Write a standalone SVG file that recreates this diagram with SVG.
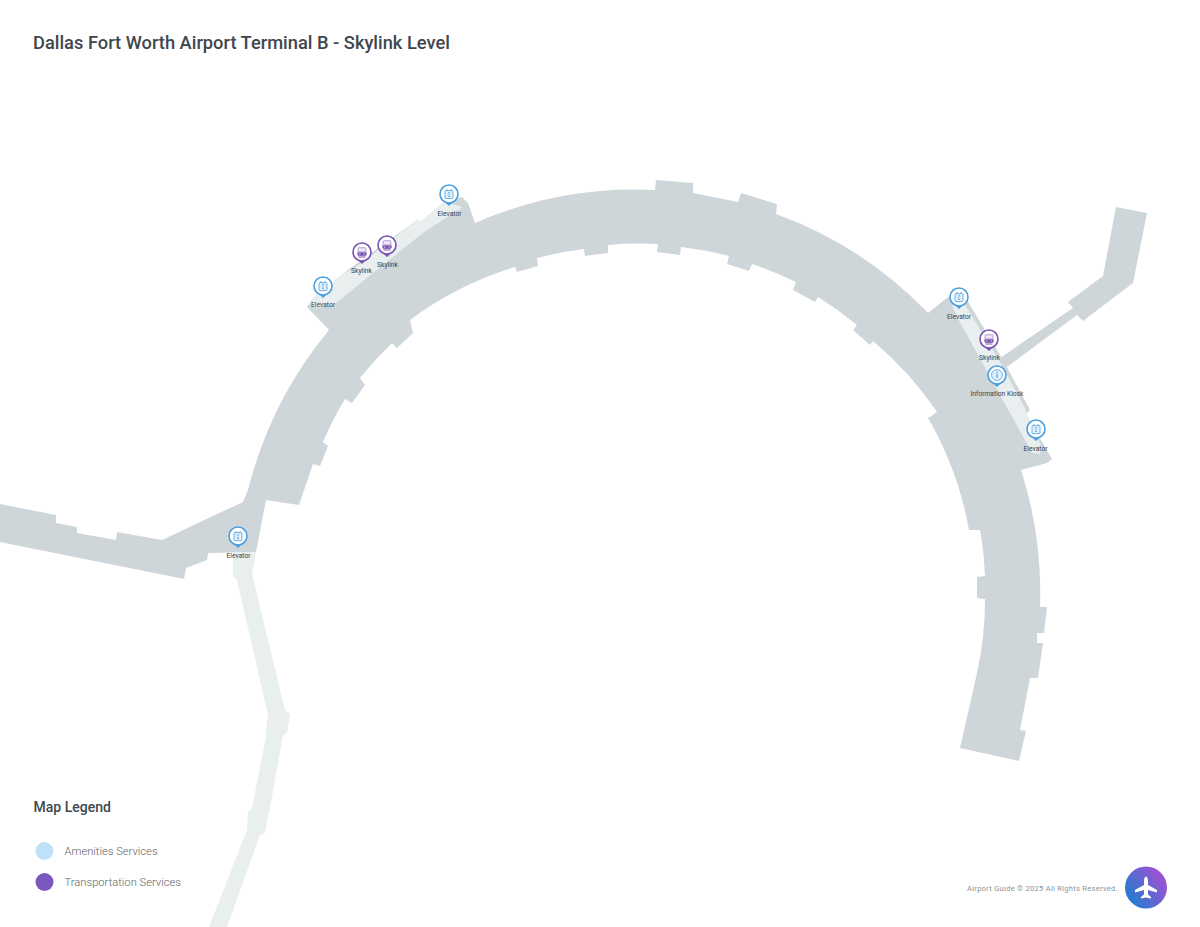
<svg xmlns="http://www.w3.org/2000/svg" xmlns:xlink="http://www.w3.org/1999/xlink" width="1200" height="927" viewBox="0 0 1200 927">
<style>
.f{fill:#ced6d9}.l{fill:#e9eeef}
text{font-family:Roboto,"Liberation Sans",sans-serif}
.lb{font-size:6.7px;fill:#3b4248;text-anchor:middle}
.a{fill:#fff;stroke:#4a9fdf;stroke-width:1.6}.at{fill:#4a9fdf}
.p{fill:#fff;stroke:#7a52b3;stroke-width:1.6}.pt{fill:#7a52b3}
.ic{fill:#e3f1fb;stroke:#4a9fdf;stroke-width:.8}
.lg{font-size:11.2px;font-weight:300;fill:#5d646a}
</style>
<defs>
<linearGradient id="g" x1="0" y1="1" x2="1" y2="0.3"><stop offset="0.1" stop-color="#1a7fd0"/><stop offset="1" stop-color="#a54fd2"/></linearGradient>
<g id="am"><path class="at" d="M-5 7.300L0 12L5 7.300Z"/><circle class="a" r="9"/><rect class="ic" x="-4" y="-3.400" width="8" height="8" rx="1"/><path d="M-2 -3.400V-5M2 -3.400V-5" stroke="#4a9fdf" stroke-width=".8" fill="none"/><path d="M0 -1.800V3M-1.200 -.6L0 -1.800L1.200 -.6M-1.200 1.800L0 3L1.200 1.800" stroke="#4a9fdf" stroke-width=".6" fill="none"/></g>
<g id="tr"><path class="pt" d="M-5 7.300L0 12L5 7.300Z"/><circle class="p" r="9"/><rect x="-4.500" y="-5" width="9" height="8.800" rx="2" fill="#c4b2e0"/><rect x="-3.200" y="-3.600" width="6.400" height="2.800" fill="#efeaf7"/><path d="M-4.500 .4H4.500V2.600Q4.500 3.800 3.200 3.800H-3.200Q-4.500 3.800 -4.500 2.600Z" class="pt"/><path d="M-3.500 5H3.500" stroke="#7a52b3" stroke-width="1"/><circle cx="-2.200" cy="2.100" r=".7" fill="#efeaf7"/><circle cx="2.200" cy="2.100" r=".7" fill="#efeaf7"/></g>
<g id="in"><path class="at" d="M-5 7.300L0 12L5 7.300Z"/><circle class="a" r="9"/><circle r="5.400" fill="#e3f1fb" stroke="#4a9fdf" stroke-width=".8"/><rect x="-.6" y="-1.200" width="1.200" height="4.200" fill="#4a9fdf"/><circle cy="-2.800" r=".75" fill="#4a9fdf"/></g>
</defs>
<text x="33" y="48.500" font-size="18.300" font-weight="500" fill="#3f474d" id="title">Dallas Fort Worth Airport Terminal B - Skylink Level</text>
<g id="terminal">
<path id="concourse" class="f" d="M0 504L56 515L56 523L77 527L77 533L116 540L117 532L162 540L200 522L243 502L248 490A405 405 0 0 1 329 330L307 307L313 298L345 272L417 220L420 222L443 203L447 202L462 197L468 203L475 223A400 400 0 0 1 655 190L656 180L693 183L693 193L738 202L741 193L777 204L776 214A400 400 0 0 1 928 313L948 297L967 300L1003 360L1030 410L1026 414L1052 459L1047 463L1021 470A400 400 0 0 1 1040 607L1047 607L1044 633L1037 633L1037 643L1043 643L1038 678L1030 678L1020 730L1026 731L1019 761L960 748L977 673A345 345 0 0 0 985 599L977 598L977 577L985 576Q984 552 980 530L969 530A345 345 0 0 0 928 418L937 412A345 345 0 0 0 873 341L870 345L853 330L857 325A345 345 0 0 0 818 297L815 302L793 290L796 282A345 345 0 0 0 752 264L749 271L727 264L729 256A345 345 0 0 0 681 247L680 255L657 252L658 244A345 345 0 0 0 608 245L608 253L585 256L584 249A345 345 0 0 0 537 258L538 266L517 272L515 267A345 345 0 0 0 410 320L413 333L397 348L392 343A345 345 0 0 0 360 378L365 385L352 403L345 399A345 345 0 0 0 323 442L328 446L320 466L313 464L299 505L266 500L256 552L208 553L207 560L186 568L184 579L0 542Z"/>
<path id="branch" class="f" d="M1116 207L1147 213L1133 283L1083 321L1077 315L1007 367L1000 358L1073 308L1068 302L1103 276Z"/>
<path id="corridor-west" class="l" d="M310 304L313 298L345 272L352 270L417 220L420 222L443 203L449 203L463 207L423 233L373 273L335 304L318 308Z"/>
<path id="corridor-east" class="l" d="M956 315L952 305L962 300L1000 362L1025 408L1027 414L1042 448L1040 454L1032 453Z"/>
<path id="walkway" class="l" d="M233 552L256 552L252 574L285 710L290 714L287 733L283 735L270 808L268 815L265 833L260 835L227 927L209 927L247 830L248 812L252 808L266 737L266 730L268 715L237 580L233 576Z"/>
</g>
<g id="pin-elevator-1"><use xlink:href="#am" href="#am" x="449" y="194"/><text class="lb" x="449.500" y="215.500">Elevator</text></g>
<g id="pin-elevator-2"><use xlink:href="#am" href="#am" x="323" y="286"/><text class="lb" x="323" y="306.500">Elevator</text></g>
<g id="pin-elevator-3"><use xlink:href="#am" href="#am" x="959" y="297"/><text class="lb" x="959" y="318.500">Elevator</text></g>
<g id="pin-elevator-4"><use xlink:href="#am" href="#am" x="1036" y="429"/><text class="lb" x="1035.500" y="450.500">Elevator</text></g>
<g id="pin-elevator-5"><use xlink:href="#am" href="#am" x="238" y="536"/><text class="lb" x="238.500" y="557.500">Elevator</text></g>
<g id="pin-skylink-1"><use xlink:href="#tr" href="#tr" x="362" y="252"/><text class="lb" x="361.500" y="272.500">Skylink</text></g>
<g id="pin-skylink-2"><use xlink:href="#tr" href="#tr" x="387" y="245"/><text class="lb" x="387.500" y="266.500">Skylink</text></g>
<g id="pin-skylink-3"><use xlink:href="#tr" href="#tr" x="989" y="339"/><text class="lb" x="989.500" y="359.500">Skylink</text></g>
<g id="pin-kiosk"><use xlink:href="#in" href="#in" x="997" y="375"/><text class="lb" x="997" y="395.500">Information Kiosk</text></g>
<g id="legend">
<text x="33.500" y="812" font-size="14" font-weight="500" fill="#3f474d">Map Legend</text>
<circle cx="44.500" cy="851" r="9" fill="#bfe1f8"/><text class="lg" x="64.500" y="855">Amenities Services</text>
<circle cx="44.500" cy="882" r="9" fill="#7a58bd"/><text class="lg" x="64.500" y="885.500">Transportation Services</text>
</g>
<g id="footer">
<text x="967" y="890.500" font-size="7.500" letter-spacing=".3" fill="#8d9297">Airport Guide © 2025 All Rights Reserved.</text>
<circle cx="1146" cy="887.500" r="21" fill="url(#g)"/>
<path fill="#fff" d="M1146 876.500C1147.500 876.500 1148 879 1148 882V885L1157 890V892.500L1148 890V894.500L1151 897V898.500L1146 897.500L1141 898.500V897L1144 894.500V890L1135 892.500V890L1144 885V882C1144 879 1144.500 876.500 1146 876.500Z"/>
</g>
</svg>
